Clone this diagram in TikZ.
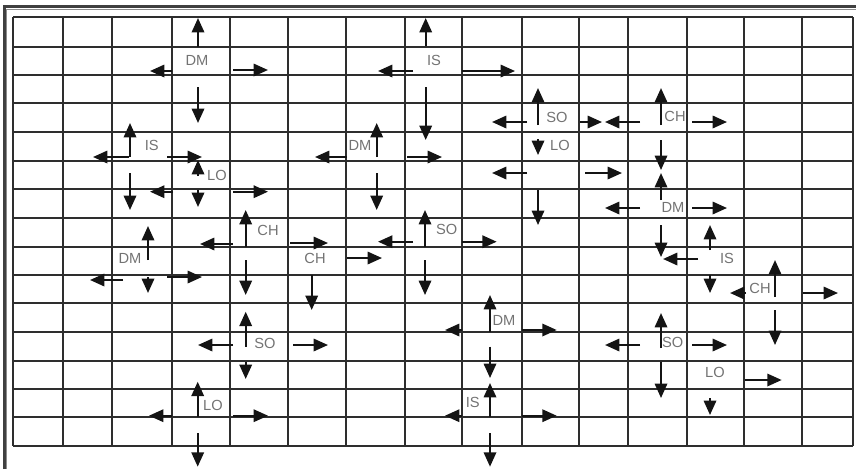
\documentclass[tikz,border=0pt]{standalone}
\usepackage{fontspec}
\setmainfont{Liberation Sans}
\usetikzlibrary{arrows.meta}
\tikzset{
  gridln/.style={line width=1.5pt, draw=black!82},
  arr/.style={line width=1.6pt, draw=black!92, -{Triangle[length=10.8pt,width=9.3pt]}},
  lbl/.style={inner sep=0pt, text=black!55, font=\fontsize{11pt}{13pt}\selectfont},
}
\begin{document}
\begin{tikzpicture}[x=0.75pt,y=-0.75pt]
\useasboundingbox (0,0) rectangle (856,469);
% outer frame
\draw[line width=2pt, black!75] (4.3,469) -- (4.3,6.5) -- (856,6.5);
\draw[line width=0.8pt, black!45] (6.8,469) -- (6.8,9.4) -- (856,9.4);
% grid
\foreach \x in {13,63,112,172,230,288,346,405,462,522,579,628,687,744,802,853}
  \draw[gridln] (\x,17) -- (\x,446);
\foreach \y in {17,47,75,103,132,161,189,218,247,275,303,332,361,389,417,446}
  \draw[gridln] (13,\y) -- (853,\y);
% labels
\node[lbl] (dm1) at (197,60) {DM};
\node[lbl] (is1) at (434,60) {IS};
\node[lbl] (is2) at (151.7,145) {IS};
\node[lbl] (lo1) at (217,175) {LO};
\node[lbl] (dm2) at (360,145) {DM};
\node[lbl] (so1) at (557,117) {SO};
\node[lbl] (lo2) at (560,145) {LO};
\node[lbl] (ch1) at (675,116) {CH};
\node[lbl] (dm3) at (673,207) {DM};
\node[lbl] (is3) at (727,258) {IS};
\node[lbl] (ch2) at (760,288) {CH};
\node[lbl] (dm4) at (130,258) {DM};
\node[lbl] (ch3) at (268,230) {CH};
\node[lbl] (so2) at (446.7,229) {SO};
\node[lbl] (ch4) at (315,258) {CH};
\node[lbl] (so3) at (265,343) {SO};
\node[lbl] (lo3) at (213,405) {LO};
\node[lbl] (dm5) at (504,320) {DM};
\node[lbl] (is4) at (472.7,402.7) {IS};
\node[lbl] (so4) at (672.7,342.7) {SO};
\node[lbl] (lo4) at (715,372.7) {LO};
% DM1
\draw[arr] (198,46.7) -- (198,18);
\draw[arr] (172,71) -- (150,71);
\draw[arr] (233,70) -- (268,70);
\draw[arr] (198,87) -- (198,123);
% IS1
\draw[arr] (425.7,46) -- (425.7,18);
\draw[arr] (413,71) -- (378,71);
\draw[arr] (462,71) -- (515,71);
\draw[arr] (425.7,87) -- (425.7,140);
% IS2
\draw[arr] (130,157) -- (130,123);
\draw[arr] (129,157) -- (93,157);
\draw[arr] (167,157) -- (202,157);
\draw[arr] (130,173) -- (130,210);
% LO1
\draw[arr] (198,176) -- (198,160);
\draw[arr] (173,191.7) -- (150,191.7);
\draw[arr] (233,191.7) -- (268,191.7);
\draw[arr] (198,190) -- (198,207);
% DM2
\draw[arr] (376.7,157) -- (376.7,123);
\draw[arr] (347,157) -- (315,157);
\draw[arr] (407,157) -- (442,157);
\draw[arr] (376.7,173) -- (376.7,210);
% SO1
\draw[arr] (538,125) -- (538,88);
\draw[arr] (527,122) -- (492,122);
\draw[arr] (580,122) -- (602,122);
\draw[arr] (538,139) -- (538,155);
% LO2
\draw[arr] (527,173) -- (492,173);
\draw[arr] (585,173) -- (622,173);
\draw[arr] (538,190) -- (538,225);
% CH1
\draw[arr] (661,125) -- (661,88);
\draw[arr] (640,122) -- (605,122);
\draw[arr] (692,122) -- (727,122);
\draw[arr] (661,140) -- (661,170);
% DM3
\draw[arr] (661,200) -- (661,173);
\draw[arr] (640,208) -- (605,208);
\draw[arr] (692,208) -- (727,208);
\draw[arr] (661,225) -- (661,257);
% IS3
\draw[arr] (710,250) -- (710,225);
\draw[arr] (698,259) -- (663,259);
\draw[arr] (710,275) -- (710,293);
% CH2
\draw[arr] (775,297) -- (775,260);
\draw[arr] (746,293) -- (730,293);
\draw[arr] (803,293) -- (838,293);
\draw[arr] (775,310) -- (775,345);
% DM4
\draw[arr] (148,260) -- (148,226);
\draw[arr] (123,280) -- (90,280);
\draw[arr] (167,277) -- (202,277);
\draw[arr] (148,277) -- (148,293);
% CH3
\draw[arr] (245.7,246.7) -- (245.7,210);
\draw[arr] (233,244) -- (200,244);
\draw[arr] (290,243) -- (328,243);
\draw[arr] (245.7,260) -- (245.7,295);
% SO2
\draw[arr] (425,246.7) -- (425,210);
\draw[arr] (413,241.7) -- (378,241.7);
\draw[arr] (461.7,241.7) -- (496.7,241.7);
\draw[arr] (425,260) -- (425,295);
% CH4
\draw[arr] (347,258) -- (382,258);
\draw[arr] (311.7,275) -- (311.7,310);
% SO3
\draw[arr] (245.7,346.7) -- (245.7,311.7);
\draw[arr] (233,345) -- (198,345);
\draw[arr] (293,345) -- (328,345);
\draw[arr] (245.7,361.7) -- (245.7,379);
% LO3
\draw[arr] (197.7,416.7) -- (197.7,381.7);
\draw[arr] (172,415.7) -- (149,415.7);
\draw[arr] (233,415.7) -- (268,415.7);
\draw[arr] (197.7,433) -- (197.7,466.7);
% DM5
\draw[arr] (490,331.7) -- (490,295);
\draw[arr] (461.7,330) -- (445,330);
\draw[arr] (521.7,330) -- (556.7,330);
\draw[arr] (490,346.7) -- (490,378);
% IS4
\draw[arr] (490,416.7) -- (490,383);
\draw[arr] (461.7,415.7) -- (445,415.7);
\draw[arr] (521.7,415.7) -- (556.7,415.7);
\draw[arr] (490,433) -- (490,466.7);
% SO4
\draw[arr] (661,348) -- (661,313);
\draw[arr] (640,345) -- (605,345);
\draw[arr] (692,345) -- (727,345);
\draw[arr] (661,361.7) -- (661,398);
% LO4
\draw[arr] (745,380) -- (781.7,380);
\draw[arr] (710,398) -- (710,415);
\end{tikzpicture}
\end{document}
